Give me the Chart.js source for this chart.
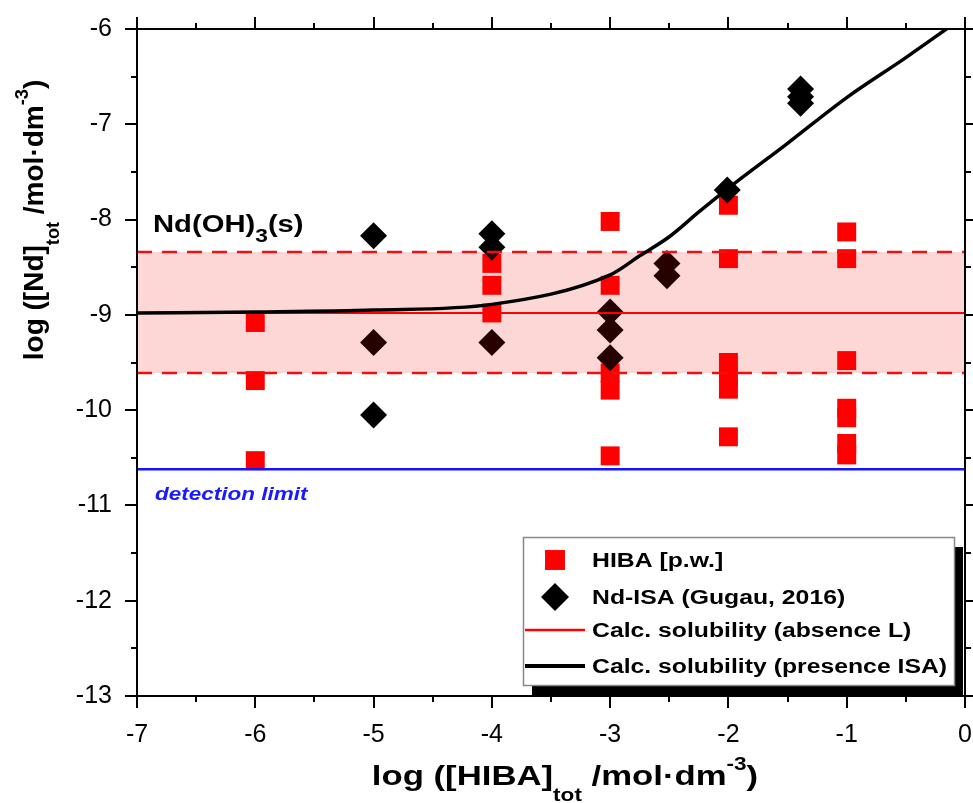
<!DOCTYPE html>
<html>
<head>
<meta charset="utf-8">
<script src="https://cdn.jsdelivr.net/npm/chart.js@4.4.0/dist/chart.umd.min.js"></script>
<style>
html, body { margin: 0; padding: 0; background: #fff; }
canvas { display: block; }
</style>
</head>
<body>
<canvas id="solChart" width="973" height="803"></canvas>
<script>
const FONT = '"Liberation Sans", Arial, sans-serif';

// axis ranges (log units)
const xRange = [-7, 0];
const yRange = [-13, -6];

// HIBA [p.w.] - red squares
const hibaX = [-6, -6, -6, -4, -4, -4, -3, -3, -3, -3, -3, -2, -2, -2, -2, -2, -2, -1, -1, -1, -1, -1, -1, -1];
const hibaY = [-9.08, -9.69, -10.53, -8.46, -8.69, -8.98, -8.02, -8.69, -9.61, -9.79, -10.48,
               -7.85, -8.41, -9.50, -9.65, -9.78, -10.28, -8.13, -8.41, -9.48, -9.98, -10.08, -10.35, -10.47];

// Nd-ISA (Gugau, 2016) - black diamonds
const isaX = [-5, -5, -5, -4, -4, -4, -3, -3, -3, -2.52, -2.52, -2.01, -1.39, -1.39, -1.39];
const isaY = [-8.17, -9.29, -10.05, -8.15, -8.29, -9.29, -8.97, -9.16, -9.45, -8.46, -8.59, -7.69, -6.63, -6.71, -6.78];

// calc. solubility in presence of ISA
const calcIsaX = [-7, -6, -5, -4, -3, -2.75, -2.5, -2.25, -2, -1.5, -1, -0.5, -0.1];
const calcIsaY = [-8.98, -8.97, -8.95, -8.89, -8.58, -8.38, -8.18, -7.92, -7.67, -7.20, -6.72, -6.30, -5.95];

// calc. solubility without ligand, its uncertainty band, detection limit
const lineX = [-7, 0];
const calcNoL = -8.98;
const bandUpper = -8.34;
const bandLower = -9.61;
const detectionLimit = -10.62;

const pts = (xs, ys) => xs.map((x, i) => ({ x: x, y: ys[i] }));
const flat = v => lineX.map(x => ({ x: x, y: v }));

// texte riche avec indices / exposants
function drawRich(ctx, parts, x, y, o) {
    const small = o.size * (o.smallScale || 0.65);
    const fnt = s => `${o.style || 'normal'} ${o.weight || 'bold'} ${s}px ${FONT}`;
    let total = 0;
    parts.forEach(p => { ctx.font = fnt(p[1] ? small : o.size); total += ctx.measureText(p[0]).width; });
    ctx.save();
    ctx.translate(x, y);
    if (o.rotate) ctx.rotate(o.rotate);
    ctx.scale(o.sx || 1, 1);
    let cx = o.align === 'center' ? -total / 2 : 0;
    ctx.fillStyle = o.color || '#000';
    ctx.textBaseline = 'alphabetic';
    ctx.textAlign = 'left';
    parts.forEach(p => {
        ctx.font = fnt(p[1] ? small : o.size);
        let dy = 0;
        if (p[1] === 'sub') dy = o.size * (o.subDy || 0.58);
        if (p[1] === 'sup') dy = -o.size * (o.supDy || 0.52);
        ctx.fillText(p[0], cx, dy);
        cx += ctx.measureText(p[0]).width;
    });
    ctx.restore();
}

// cadre, ticks mineurs et ticks miroir
const framePlugin = {
    id: 'frame',
    afterDraw(chart) {
        const { ctx, chartArea: a, scales } = chart;
        ctx.save();
        ctx.strokeStyle = '#000';
        ctx.lineWidth = 2;
        ctx.strokeRect(a.left, a.top, a.right - a.left, a.bottom - a.top);
        ctx.beginPath();
        for (let i = 0; i <= (xRange[1] - xRange[0]) * 2; i++) {
            const v = xRange[0] + i * 0.5;
            const px = Math.round(scales.x.getPixelForValue(v));
            const len = i % 2 === 0 ? 12 : 6;
            if (i % 2) { ctx.moveTo(px, a.bottom); ctx.lineTo(px, a.bottom + 6); }
            ctx.moveTo(px, a.top); ctx.lineTo(px, a.top - len);
        }
        for (let i = 0; i <= (yRange[1] - yRange[0]) * 2; i++) {
            const v = yRange[0] + i * 0.5;
            const py = Math.round(scales.y.getPixelForValue(v));
            const len = i % 2 === 0 ? 12 : 6;
            if (i % 2) { ctx.moveTo(a.left, py); ctx.lineTo(a.left - 6, py); }
            ctx.moveTo(a.right, py); ctx.lineTo(a.right + len, py);
        }
        ctx.stroke();
        ctx.restore();
    }
};

// textes : titres d'axes, annotations
const textPlugin = {
    id: 'texts',
    afterDraw(chart) {
        const { ctx, chartArea: a, scales } = chart;
        drawRich(ctx, [['log ([HIBA]'], ['tot', 'sub'], [' /mol\u00b7dm'], ['-3', 'sup'], [')']],
            565, 785, { size: 28, sx: 1.24, align: 'center' });
        drawRich(ctx, [['log ([Nd]'], ['tot', 'sub'], [' /mol\u00b7dm'], ['-3', 'sup'], [')']],
            43, 220, { size: 28, align: 'center', rotate: -Math.PI / 2 });
        drawRich(ctx, [['Nd(OH)'], ['3', 'sub'], ['(s)']],
            a.left + 16, 232, { size: 23, sx: 1.27, smallScale: 0.78, subDy: 0.43 });
        drawRich(ctx, [['detection limit']],
            a.left + 18, scales.y.getPixelForValue(detectionLimit) + 31,
            { size: 18, sx: 1.25, style: 'italic', color: '#1a1aff' });
    }
};

// légende encadrée avec ombre
const legendPlugin = {
    id: 'boxLegend',
    afterDraw(chart) {
        const { ctx, chartArea: a } = chart;
        const ds = chart.data.datasets;
        const L = 523, T = 537, R = a.right - 11, B = a.bottom - 11;
        ctx.save();
        ctx.fillStyle = '#000';
        ctx.fillRect(L + 9, T + 10, R - L, B - T);
        ctx.fillStyle = '#fff';
        ctx.fillRect(L, T, R - L, B - T);
        ctx.strokeStyle = '#888';
        ctx.lineWidth = 1.5;
        ctx.strokeRect(L + 0.5, T + 0.5, R - L, B - T);

        const items = [
            { d: ds[0], y: 560, size: 14.1 },
            { d: ds[1], y: 597, size: 14 },
            { d: ds[4], y: 630 },
            { d: ds[6], y: 666 }
        ];
        items.forEach(it => {
            const d = it.d;
            if (d.showLine) {
                ctx.strokeStyle = d.borderColor;
                ctx.lineWidth = d.borderWidth + 0.5;
                ctx.beginPath();
                ctx.moveTo(L + 2, it.y);
                ctx.lineTo(L + 62, it.y);
                ctx.stroke();
            } else {
                ctx.fillStyle = d.backgroundColor;
                Chart.helpers.drawPoint(ctx, { pointStyle: d.pointStyle, radius: it.size, rotation: 0, borderWidth: 0 }, 555, it.y);
            }
            drawRich(ctx, [[d.label]], 592, it.y + 7, { size: 19.5, sx: 1.27 });
        });
        ctx.restore();
    }
};

const ctx = document.getElementById('solChart').getContext('2d');
const chart = new Chart(ctx, {
    type: 'scatter',
    data: {
        datasets: [
            {
                label: 'HIBA [p.w.]',
                data: pts(hibaX, hibaY),
                pointStyle: 'rect',
                pointRadius: 13.4,
                backgroundColor: '#ff0000',
                borderWidth: 0,
                order: 6
            },
            {
                label: 'Nd-ISA (Gugau, 2016)',
                data: pts(isaX, isaY),
                pointStyle: 'rectRot',
                pointRadius: 13.5,
                backgroundColor: '#000000',
                borderWidth: 0,
                order: 5
            },
            {
                label: 'upper',
                data: flat(bandUpper),
                showLine: true,
                pointRadius: 0,
                borderColor: '#ee1111',
                borderWidth: 2.5,
                borderDash: [15, 10],
                fill: '+1',
                backgroundColor: 'rgba(240, 0, 0, 0.16)',
                order: 4
            },
            {
                label: 'lower',
                data: flat(bandLower),
                showLine: true,
                pointRadius: 0,
                borderColor: '#ee1111',
                borderWidth: 2.5,
                borderDash: [15, 10],
                fill: false,
                order: 4
            },
            {
                label: 'Calc. solubility (absence L)',
                data: flat(calcNoL),
                showLine: true,
                pointRadius: 0,
                borderColor: '#ff0000',
                borderWidth: 2,
                fill: false,
                order: 2
            },
            {
                label: 'detection limit',
                data: flat(detectionLimit),
                showLine: true,
                pointRadius: 0,
                borderColor: '#1414ff',
                borderWidth: 2.5,
                fill: false,
                order: 2
            },
            {
                label: 'Calc. solubility (presence ISA)',
                data: pts(calcIsaX, calcIsaY),
                showLine: true,
                pointRadius: 0,
                borderColor: '#000000',
                borderWidth: 3.5,
                cubicInterpolationMode: 'monotone',
                fill: false,
                order: 1
            }
        ]
    },
    options: {
        responsive: false,
        animation: false,
        devicePixelRatio: 1,
        events: [],
        layout: { autoPadding: false, padding: { top: 29, right: 8, left: 0, bottom: 0 } },
        plugins: {
            legend: { display: false },
            tooltip: { enabled: false }
        },
        scales: {
            x: {
                type: 'linear',
                min: xRange[0],
                max: xRange[1],
                ticks: {
                    stepSize: 1,
                    color: '#000',
                    padding: 12,
                    font: { family: FONT, size: 25 },
                    callback: v => String(v)
                },
                grid: { drawOnChartArea: false, drawTicks: true, tickLength: 12, color: '#000', lineWidth: 2 },
                border: { display: false },
                afterFit: s => { s.height = 107; s.paddingLeft = 0; s.paddingRight = 0; }
            },
            y: {
                type: 'linear',
                min: yRange[0],
                max: yRange[1],
                ticks: {
                    stepSize: 1,
                    color: '#000',
                    padding: 13,
                    font: { family: FONT, size: 25 },
                    callback: v => String(v)
                },
                grid: { drawOnChartArea: false, drawTicks: true, tickLength: 12, color: '#000', lineWidth: 2 },
                border: { display: false },
                afterFit: s => { s.width = 137; s.paddingTop = 0; s.paddingBottom = 0; }
            }
        }
    },
    plugins: [framePlugin, textPlugin, legendPlugin]
});
</script>
</body>
</html>
